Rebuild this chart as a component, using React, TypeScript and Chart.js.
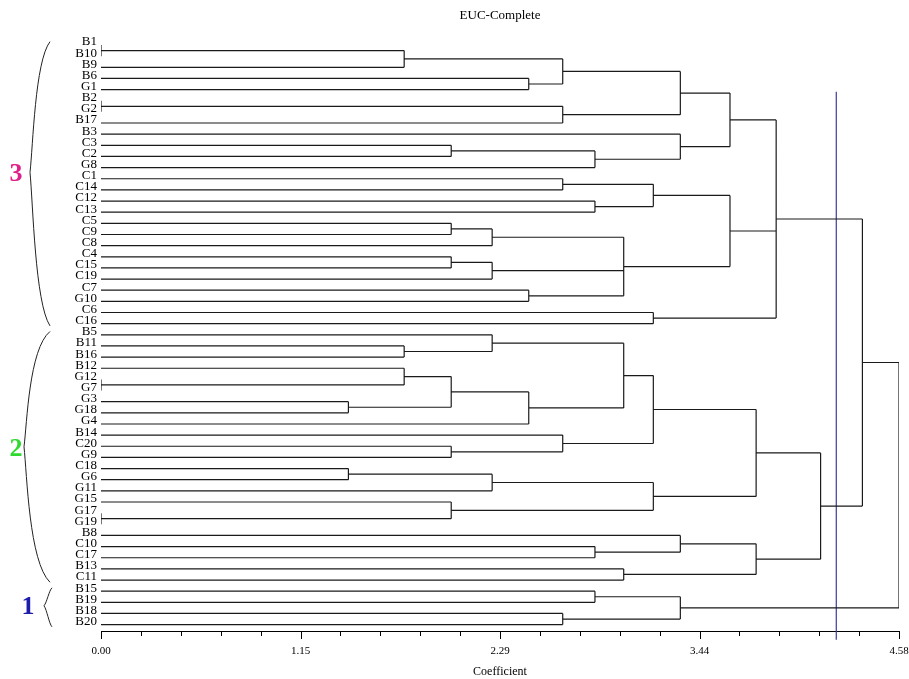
import React, { useEffect, useRef } from "react";
import { Chart, registerables } from "chart.js";
Chart.register(...registerables);

// ---- data ----
const leafLabels = [
  "B1", "B10", "B9", "B6", "G1", "B2", "G2", "B17", "B3", "C3", "C2", "G8", "C1", "C14", "C12", "C13",
  "C5", "C9", "C8", "C4", "C15", "C19", "C7", "G10", "C6", "C16",
  "B5", "B11", "B16", "B12", "G12", "G7", "G3", "G18", "G4", "B14", "C20", "G9", "C18", "G6", "G11",
  "G15", "G17", "G19", "B8", "C10", "C17", "B13", "C11", "B15", "B19", "B18", "B20",
];

// merge heights (coefficient) and children ("#n" = merge n)
const mergeHeights = [
  0, 1.74, 2.455, 2.65, 0, 2.65, 3.325, 2.01, 2.835, 3.325, 3.61,
  2.65, 2.835, 3.17, 2.01, 2.245, 2.01, 2.245, 2.455, 3.0, 3.61, 3.17, 3.875,
  1.74, 2.245, 0, 1.74, 1.42, 2.01, 2.455, 3.0, 2.01, 2.65, 3.17,
  1.42, 2.245, 0, 2.01, 3.17, 3.76, 2.835, 3.325, 3.0, 3.76, 4.13, 4.37,
  2.835, 2.65, 3.325, 4.58,
];
const mergeChildren: string[][] = [
  ["B1", "B10"], ["#0", "B9"], ["B6", "G1"], ["#1", "#2"], ["B2", "G2"], ["#4", "B17"], ["#3", "#5"],
  ["C3", "C2"], ["#7", "G8"], ["B3", "#8"], ["#6", "#9"],
  ["C1", "C14"], ["C12", "C13"], ["#11", "#12"], ["C5", "C9"], ["#14", "C8"], ["C4", "C15"], ["#16", "C19"],
  ["C7", "G10"], ["#15", "#17", "#18"], ["#13", "#19"], ["C6", "C16"], ["#10", "#20", "#21"],
  ["B11", "B16"], ["B5", "#23"], ["G12", "G7"], ["B12", "#25"], ["G3", "G18"], ["#26", "#27"], ["#28", "G4"],
  ["#24", "#29"], ["C20", "G9"], ["B14", "#31"], ["#30", "#32"],
  ["C18", "G6"], ["#34", "G11"], ["G17", "G19"], ["G15", "#36"], ["#35", "#37"], ["#33", "#38"],
  ["C10", "C17"], ["B8", "#40"], ["B13", "C11"], ["#41", "#42"], ["#39", "#43"], ["#22", "#44"],
  ["B15", "B19"], ["B18", "B20"], ["#46", "#47"], ["#45", "#48"],
];

const axisMax = 4.58;
const axisTickLabels = ["0.00", "1.15", "2.29", "3.44", "4.58"];
const minorPerMajor = 5;
const cutLevel = 4.22;
const cutRows = [5.2, 54.35];

const groupNames = ["3", "2", "1"];
const groupFirstLeaf = ["B1", "B5", "B15"];
const groupLastLeaf = ["C16", "C11", "B20"];
const groupColors = ["#e0208a", "#2fd92f", "#1d1daa"];

function buildSegments() {
  const pos = new Map<string, { y: number; h: number }>();
  leafLabels.forEach((n, i) => pos.set(n, { y: i + 1, h: 0 }));
  const pts: { x: number; y: number | null }[] = [];
  mergeChildren.forEach((kids, k) => {
    const h = mergeHeights[k];
    const cs = kids.map((c) => pos.get(c)!);
    cs.forEach((c) => {
      if (h > c.h) pts.push({ x: c.h, y: c.y }, { x: h, y: c.y }, { x: h, y: null });
    });
    pts.push({ x: h, y: cs[0].y }, { x: h, y: cs[cs.length - 1].y }, { x: h, y: null });
    pos.set("#" + k, { y: (cs[0].y + cs[cs.length - 1].y) / 2, h });
  });
  return pts;
}

const SERIF = "'Liberation Serif', 'DejaVu Serif', serif";

const decorPlugin = {
  id: "decor",
  afterDraw(chart: any) {
    const ctx = chart.ctx as CanvasRenderingContext2D;
    const xs = chart.scales.x;
    const ys = chart.scales.y;
    ctx.save();
    // x tick marks
    ctx.strokeStyle = "#000";
    ctx.lineWidth = 1;
    xs.ticks.forEach((t: any, i: number) => {
      const px = Math.round(xs.getPixelForValue(t.value)) + 0.5;
      const len = i % minorPerMajor === 0 ? 8 : 5;
      ctx.beginPath();
      ctx.moveTo(px, xs.top);
      ctx.lineTo(px, xs.top + len);
      ctx.stroke();
    });
    // group braces and numbers
    const tipX = [30, 24, 44];
    const endX = [50, 50, 52];
    const numX = [16, 16, 28];
    groupNames.forEach((name, g) => {
      const i0 = leafLabels.indexOf(groupFirstLeaf[g]) + 1;
      const i1 = leafLabels.indexOf(groupLastLeaf[g]) + 1;
      const top = ys.getPixelForValue(i0 - 0.3);
      const bot = ys.getPixelForValue(i1 + 0.2);
      const tipY = top + (bot - top) * 0.46;
      const xe = endX[g];
      const xt = tipX[g];
      ctx.strokeStyle = "#222";
      ctx.lineWidth = 1;
      ctx.beginPath();
      ctx.moveTo(xe, top);
      ctx.bezierCurveTo(xt + 5, top + (tipY - top) * 0.15, xt + 3, tipY - (tipY - top) * 0.2, xt, tipY);
      ctx.bezierCurveTo(xt + 3, tipY + (bot - tipY) * 0.2, xt + 5, bot - (bot - tipY) * 0.15, xe, bot);
      ctx.stroke();
      ctx.fillStyle = groupColors[g];
      ctx.font = `bold 26px ${SERIF}`;
      ctx.textAlign = "center";
      ctx.textBaseline = "middle";
      ctx.fillText(name, numX[g], tipY + 2);
    });
    ctx.restore();
  },
};

export default function App() {
  const ref = useRef<HTMLCanvasElement | null>(null);
  useEffect(() => {
    if (!ref.current) return;
    const chart = new Chart(ref.current, {
      type: "line",
      data: {
        datasets: [
          {
            data: buildSegments() as any,
            borderColor: "#1a1a1a",
            borderWidth: 1.2,
            pointRadius: 0,
            spanGaps: false,
            tension: 0,
          },
          {
            data: [
              { x: cutLevel, y: cutRows[0] },
              { x: cutLevel, y: cutRows[1] },
            ] as any,
            borderColor: "#3b3b9e",
            borderWidth: 1.2,
            pointRadius: 0,
            clip: false as any,
          },
        ],
      },
      options: {
        animation: false,
        responsive: false,
        devicePixelRatio: 1,
        layout: { padding: { left: 0, right: 10, top: 0, bottom: 0 } },
        plugins: {
          legend: { display: false },
          tooltip: { enabled: false },
          title: {
            display: true,
            text: "EUC-Complete",
            fullSize: false,
            color: "#000",
            font: { family: SERIF, size: 13, weight: "normal" },
            padding: { top: 8, bottom: 9 },
          },
        },
        scales: {
          x: {
            type: "linear",
            min: 0,
            max: axisMax,
            afterBuildTicks: (s: any) => {
              const n = (axisTickLabels.length - 1) * minorPerMajor;
              s.ticks = Array.from({ length: n + 1 }, (_, i) => ({ value: (i * axisMax) / n }));
            },
            afterFit: (s: any) => {
              s.paddingLeft = 0;
              s.paddingRight = 0;
              s.height = 48;
            },
            grid: { display: false, drawTicks: false },
            border: { display: true, color: "#000", width: 1 },
            ticks: {
              autoSkip: false,
              maxRotation: 0,
              padding: 14,
              color: "#000",
              font: { family: SERIF, size: 11 },
              callback: (_v: any, i: number) =>
                i % minorPerMajor === 0 ? axisTickLabels[i / minorPerMajor] : "",
            },
            title: {
              display: true,
              text: "Coefficient",
              color: "#000",
              font: { family: SERIF, size: 12 },
              padding: { top: 7, bottom: 0 },
            },
          },
          y: {
            type: "linear",
            reverse: true,
            min: 1 - 1.112,
            max: leafLabels.length + 0.573,
            afterFit: (s: any) => {
              s.width = 101;
              s.paddingTop = 0;
              s.paddingBottom = 0;
            },
            afterBuildTicks: (s: any) => {
              s.ticks = leafLabels.map((_, i) => ({ value: i + 1 }));
            },
            grid: { display: false, drawTicks: false },
            border: { display: false },
            ticks: {
              autoSkip: false,
              padding: 4,
              labelOffset: -3,
              color: "#000",
              font: { family: SERIF, size: 13 },
              callback: (v: any) => leafLabels[Math.round(v) - 1] ?? "",
            },
          },
        },
      },
      plugins: [decorPlugin],
    });
    return () => chart.destroy();
  }, []);
  return (
    <div style={{ position: "absolute", left: 0, top: 0, width: 909, height: 679, background: "#fff" }}>
      <canvas ref={ref} width={909} height={679} />
    </div>
  );
}
